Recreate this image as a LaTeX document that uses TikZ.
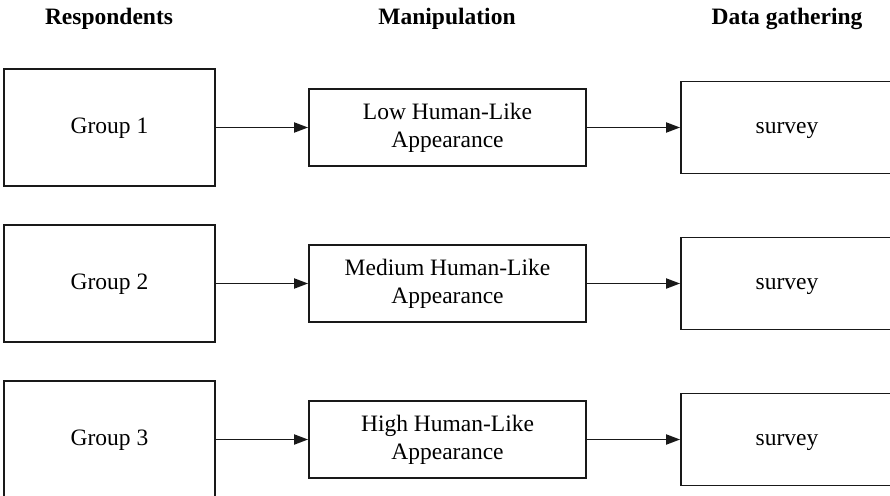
\documentclass[tikz,border=0pt]{standalone}
\usepackage{fontspec}
\setmainfont{Liberation Serif}
\usetikzlibrary{arrows.meta}
\begin{document}
\begin{tikzpicture}[x=1pt,y=-1pt,
  box/.style={draw=black!90, line width=1.8pt, fill=white, align=center,
    font=\fontsize{23.5}{28}\selectfont, inner sep=0pt},
  oneline/.style={text height=16.5pt, text depth=5.5pt},
  grp/.style={box, oneline, minimum width=211pt, minimum height=117pt},
  manip/.style={box, minimum width=277pt, minimum height=77pt},
  surv/.style={box, oneline, minimum width=212pt, minimum height=92pt},
  head/.style={font=\fontsize{23.5}{28}\selectfont\bfseries, anchor=base},
  flow/.style={draw=black!90, line width=1.9pt, -{Triangle[length=14pt,width=10pt]}}]
\useasboundingbox[fill=white] (0,0) rectangle (890,495);

% column headings
\node[head] (h1) at (109,25) {Respondents};
\node[head] (h2) at (447,25) {Manipulation};
\node[head] (h3) at (787,25) {Data gathering};

% respondent groups
\node[grp] (g1) at (109.5,127.5) {Group 1};
\node[grp] (g2) at (109.5,283.5) {Group 2};
\node[grp] (g3) at (109.5,439.5) {Group 3};

% manipulation conditions
\node[manip] (m1) at (447.5,127.5) {Low Human-Like\\Appearance};
\node[manip] (m2) at (447.5,283.5) {Medium Human-Like\\Appearance};
\node[manip] (m3) at (447.5,439.5) {High Human-Like\\Appearance};

% data gathering (boxes run past the right edge)
\node[surv] (s1) at (787,127.5) {survey};
\node[surv] (s2) at (787,283.5) {survey};
\node[surv] (s3) at (787,439.5) {survey};

% flow arrows
\draw[flow] (g1) -- (m1);
\draw[flow] (g2) -- (m2);
\draw[flow] (g3) -- (m3);
\draw[flow] (m1) -- (s1);
\draw[flow] (m2) -- (s2);
\draw[flow] (m3) -- (s3);
\end{tikzpicture}
\end{document}
